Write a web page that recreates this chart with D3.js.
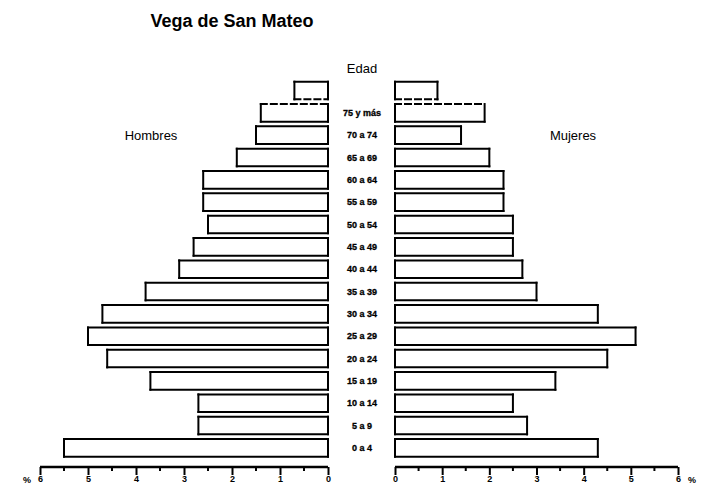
<!DOCTYPE html>
<html>
<head>
<meta charset="utf-8">
<script src="https://cdn.jsdelivr.net/npm/d3@7/dist/d3.min.js"></script>
<style>
  body { margin: 0; background: #fff; }
  svg { display: block; font-family: "Liberation Sans", Arial, sans-serif; }
</style>
</head>
<body>
<div id="chart"></div>
<script>
// age groups, top to bottom (first row has no label in the original)
const ages = ['', '75 y más', '70 a 74', '65 a 69', '60 a 64', '55 a 59', '50 a 54',
  '45 a 49', '40 a 44', '35 a 39', '30 a 34', '25 a 29', '20 a 24', '15 a 19',
  '10 a 14', '5 a 9', '0 a 4'];
const hombres = [0.7, 1.4, 1.5, 1.9, 2.6, 2.6, 2.5, 2.8, 3.1, 3.8, 4.7, 5.0, 4.6, 3.7, 2.7, 2.7, 5.5];
const mujeres = [0.9, 1.9, 1.4, 2.0, 2.3, 2.3, 2.5, 2.5, 2.7, 3.0, 4.3, 5.1, 4.5, 3.4, 2.5, 2.8, 4.3];
const ticks = [0, 1, 2, 3, 4, 5, 6];

const width = 706, height = 487;

const svg = d3.select('#chart').append('svg')
  .attr('width', width)
  .attr('height', height);

// scales
const y = d3.scaleBand().domain(ages).range([81.7, 456.7]).paddingInner(0.21).paddingOuter(0);
const xL = d3.scaleLinear().domain([0, 6]).range([328, 40]);
const xR = d3.scaleLinear().domain([0, 6]).range([395, 678]);

// draw one box edge by edge so the top rows can have dashed sides
function box(g, x0, x1, y0, y1, dashTop, dashBottom) {
  const edges = [
    [x0, y0, x1, y0, dashTop],
    [x0, y1, x1, y1, dashBottom],
    [x0, y0, x0, y1, false],
    [x1, y0, x1, y1, false]
  ];
  edges.forEach(e => {
    g.append('line')
      .attr('x1', e[0]).attr('y1', e[1]).attr('x2', e[2]).attr('y2', e[3])
      .attr('stroke', '#000')
      .attr('stroke-width', 2)
      .attr('stroke-linecap', 'square')
      .attr('stroke-dasharray', e[4] ? '6,4' : null);
  });
}

const bars = svg.append('g');
ages.forEach((a, i) => {
  const y0 = y(a), y1 = y(a) + y.bandwidth();
  const dTop = i === 1, dBot = i === 0;
  bars.append('rect').attr('x', xL(hombres[i])).attr('y', y0)
    .attr('width', xL(0) - xL(hombres[i])).attr('height', y.bandwidth()).attr('fill', '#fff');
  box(bars, xL(hombres[i]), xL(0), y0, y1, dTop, dBot);
  bars.append('rect').attr('x', xR(0)).attr('y', y0)
    .attr('width', xR(mujeres[i]) - xR(0)).attr('height', y.bandwidth()).attr('fill', '#fff');
  box(bars, xR(0), xR(mujeres[i]), y0, y1, dTop, dBot);
});

// age labels in the middle
svg.append('g').selectAll('text')
  .data(ages)
  .join('text')
  .attr('x', 362)
  .attr('y', d => y(d) + y.bandwidth() / 2 + 3)
  .attr('text-anchor', 'middle')
  .attr('font-size', 9)
  .attr('font-weight', 'bold')
  .attr('stroke', '#000')
  .attr('stroke-width', 0.3)
  .text(d => d);

// axes
const axisL = d3.axisBottom(xL).tickValues(ticks).tickSize(8).tickFormat(d3.format('d'));
const axisR = d3.axisBottom(xR).tickValues(ticks).tickSize(8).tickFormat(d3.format('d'));
const minor = d3.range(0.5, 6, 1);

[[xL, axisL], [xR, axisR]].forEach(([sc, ax]) => {
  const g = svg.append('g').attr('transform', 'translate(0,467)').call(ax);
  g.select('.domain').attr('stroke-width', 2.5).attr('d', `M${sc(0)},0H${sc(6)}`);
  g.selectAll('.tick line').attr('stroke-width', 2);
  g.selectAll('.tick text')
    .attr('y', 9)
    .attr('font-size', 9)
    .attr('font-weight', 'bold')
    .attr('font-family', '"Liberation Sans", Arial, sans-serif');
  g.selectAll('.minor')
    .data(minor)
    .join('line')
    .attr('class', 'minor')
    .attr('x1', d => sc(d)).attr('x2', d => sc(d))
    .attr('y1', 0).attr('y2', 4)
    .attr('stroke', '#000')
    .attr('stroke-width', 2);
});

svg.append('text').attr('x', 27).attr('y', 483).attr('text-anchor', 'middle')
  .attr('font-size', 9).attr('font-weight', 'bold').text('%');
svg.append('text').attr('x', 692).attr('y', 483).attr('text-anchor', 'middle')
  .attr('font-size', 9).attr('font-weight', 'bold').text('%');

// titles
svg.append('text').attr('x', 232).attr('y', 27).attr('text-anchor', 'middle')
  .attr('font-size', 18).attr('font-weight', 'bold').text('Vega de San Mateo');
svg.append('text').attr('x', 362).attr('y', 73).attr('text-anchor', 'middle')
  .attr('font-size', 13).text('Edad');
svg.append('text').attr('x', 151).attr('y', 140).attr('text-anchor', 'middle')
  .attr('font-size', 13).text('Hombres');
svg.append('text').attr('x', 573).attr('y', 140).attr('text-anchor', 'middle')
  .attr('font-size', 13).text('Mujeres');
</script>
</body>
</html>
